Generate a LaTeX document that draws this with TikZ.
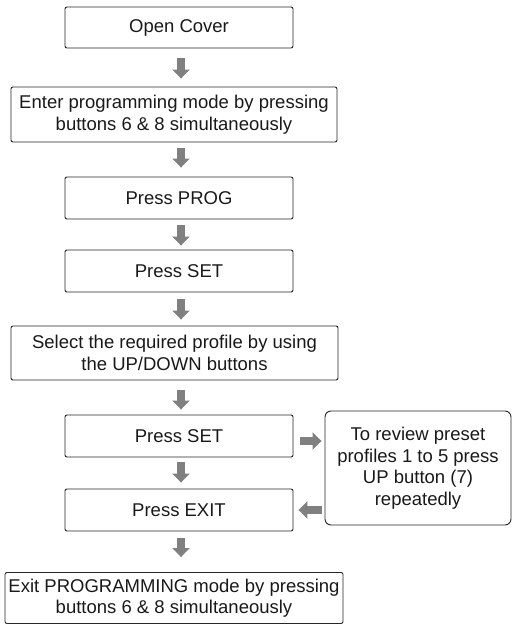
\documentclass[tikz,border=0pt]{standalone}
\usepackage{fontspec}
\setmainfont{Liberation Sans}
\usetikzlibrary{arrows.meta,calc}
\definecolor{arrowgray}{HTML}{808080}
\definecolor{boxline}{HTML}{262626}
\begin{document}
\begin{tikzpicture}[x=1pt,y=-1pt,
  box/.style={draw=boxline, line width=0.9pt, rounded corners=2pt, align=center,
    inner sep=0pt, font=\fontsize{18.5}{21.5}\selectfont, text=black!90},
  blk/.style={draw=arrowgray, line width=8pt, -{Triangle[width=17pt,length=9pt]}}]
\useasboundingbox (0,0) rectangle (512,624);
\node[box, minimum width=228pt, minimum height=41pt] (b1) at (179,27.5) {Open Cover};
\node[box, minimum width=326pt, minimum height=55pt] (b2) at (174,114.5) {Enter programming mode by pressing\\buttons 6 \& 8 simultaneously};
\node[box, minimum width=228pt, minimum height=42pt] (b3) at (179,198) {Press PROG};
\node[box, minimum width=228pt, minimum height=42pt] (b4) at (179,271) {Press SET};
\node[box, minimum width=327pt, minimum height=54pt] (b5) at (174.5,353) {Select the required profile by using\\the UP/DOWN buttons};
\node[box, minimum width=228pt, minimum height=42pt] (b6) at (179,436) {Press SET};
\node[box, rounded corners=6pt, minimum width=186pt, minimum height=114pt] (r) at (418,468) {To review preset\\profiles 1 to 5 press\\UP button (7)\\repeatedly};
\node[box, minimum width=228pt, minimum height=42pt] (b7) at (179,510) {Press EXIT};
\node[box, minimum width=338pt, minimum height=51pt] (b8) at (174,598) {Exit PROGRAMMING mode by pressing\\buttons 6 \& 8 simultaneously};
\draw[blk, shorten <=10pt, shorten >=8pt] ([xshift=2pt]b1.south) -- ([xshift=2pt]b1.south |- b2.north);
\draw[blk, shorten <=6pt, shorten >=9pt] ([xshift=2pt]b3.north |- b2.south) -- ([xshift=2pt]b3.north);
\draw[blk, shorten <=6pt, shorten >=4pt] ([xshift=2pt]b3.south) -- ([xshift=2pt]b4.north);
\draw[blk, shorten <=7pt, shorten >=6pt] ([xshift=2pt]b4.south) -- ([xshift=2pt]b4.south |- b5.north);
\draw[blk, shorten <=10pt, shorten >=5pt] ([xshift=2pt]b6.north |- b5.south) -- ([xshift=2pt]b6.north);
\draw[blk, shorten <=5pt, shorten >=6pt] ([xshift=2pt]b6.south) -- ([xshift=2pt]b7.north);
\draw[blk, shorten <=7pt, shorten >=15pt] ([xshift=2pt]b7.south) -- ([xshift=2pt]b7.south |- b8.north);
\draw[blk, shorten <=7pt, shorten >=3pt] ([yshift=-5pt]b6.east) -- ([yshift=-5pt]b6.east -| r.west);
\draw[blk, shorten <=3pt, shorten >=5pt] (r.west |- b7.east) -- (b7.east);
\end{tikzpicture}
\end{document}
